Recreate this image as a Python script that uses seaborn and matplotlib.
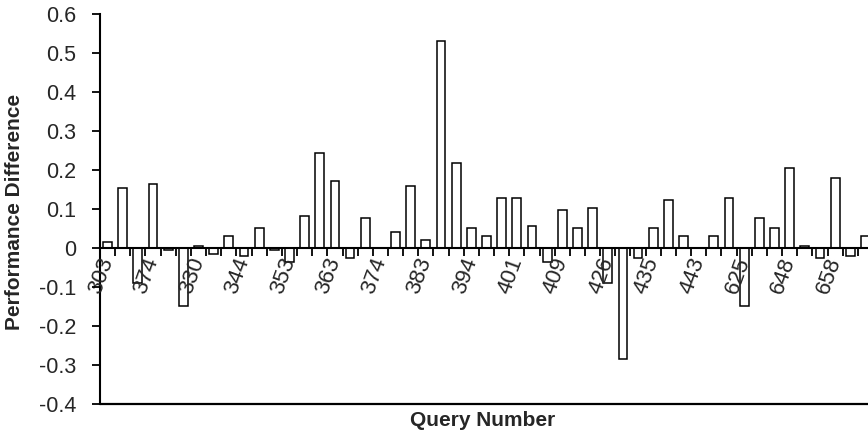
import numpy as np
import pandas as pd
import matplotlib
matplotlib.use("Agg")
import matplotlib.pyplot as plt
import seaborn as sns

# ---- data ----
values = [0.015, 0.155, -0.090, 0.165, -0.005, -0.148, 0.006, -0.016, 0.031, -0.020,
          0.052, -0.005, -0.036, 0.083, 0.243, 0.171, -0.026, 0.078, 0.000, 0.042,
          0.160, 0.021, 0.530, 0.217, 0.052, 0.031, 0.129, 0.129, 0.057, -0.036,
          0.098, 0.052, 0.103, -0.090, -0.283, -0.026, 0.052, 0.124, 0.031, 0.000,
          0.031, 0.129, -0.148, 0.078, 0.052, 0.205, 0.005, -0.026, 0.180, -0.020,
          0.031]
tick_labels = ["303", "374", "330", "344", "353", "363", "374", "383", "394",
               "401", "409", "426", "435", "443", "625", "648", "658"]
y_ticks = [-0.4, -0.3, -0.2, -0.1, 0, 0.1, 0.2, 0.3, 0.4, 0.5, 0.6]

n = len(values)
df = pd.DataFrame({"idx": np.arange(n), "diff": values})

sns.set_style("white")
plt.rcParams["font.family"] = ["Liberation Sans", "DejaVu Sans"]

fig = plt.figure(figsize=(8.68, 4.34), dpi=100)
W, H = 868, 434
left, right, top, bottom = 100, 873, 14, 404.3
ax = fig.add_axes([left / W, (H - bottom) / H, (right - left) / W, (bottom - top) / H])

sns.barplot(data=df, x="idx", y="diff", color="white", edgecolor="black",
            linewidth=1.1, width=0.58, ax=ax, saturation=1)

ax.set_xlim(-0.5, n - 0.5)
ax.set_ylim(-0.4, 0.6)
ax.set_axisbelow(False)

# spines
for s in ["top", "right"]:
    ax.spines[s].set_visible(False)
ax.spines["left"].set_linewidth(1.5)
ax.spines["left"].set_color("black")
ax.spines["bottom"].set_position(("data", 0))
ax.spines["bottom"].set_linewidth(1.5)
ax.spines["bottom"].set_color("black")
ax.axhline(-0.4, color="black", lw=1.6, clip_on=False, zorder=5)

# y ticks
ax.set_yticks(y_ticks)
ax.set_yticklabels([f"{v:g}" for v in y_ticks], fontsize=15.5)
ax.tick_params(axis="y", direction="out", length=6, width=1.3, color="black", pad=11, left=True)

# x ticks: labels every 3rd category, tick marks at category boundaries
label_pos = np.arange(0, n, 3)[:len(tick_labels)]
ax.set_xticks(label_pos)
ax.set_xticklabels(tick_labels, rotation=70, ha="right", va="center",
                   rotation_mode="anchor", fontsize=16)
ax.tick_params(axis="x", which="major", length=0, pad=7, bottom=True)
ax.set_xticks(np.arange(-0.5, n, 1.0), minor=True)
ax.tick_params(axis="x", which="minor", direction="out", length=6, width=1.3,
               color="black", bottom=True)

ax.set_xlabel("Query Number", fontsize=15, fontweight="bold")
ax.set_ylabel("Performance Difference", fontsize=15, fontweight="bold")
ax.xaxis.set_label_coords((483 - left) / (right - left), -(420 - bottom) / (bottom - top))
ax.yaxis.set_label_coords((15 - left) / (right - left), (bottom - 212) / (bottom - top))
ax.yaxis.label.set_va("center")
ax.xaxis.label.set_va("center")

fig.savefig("out.png", dpi=100)
